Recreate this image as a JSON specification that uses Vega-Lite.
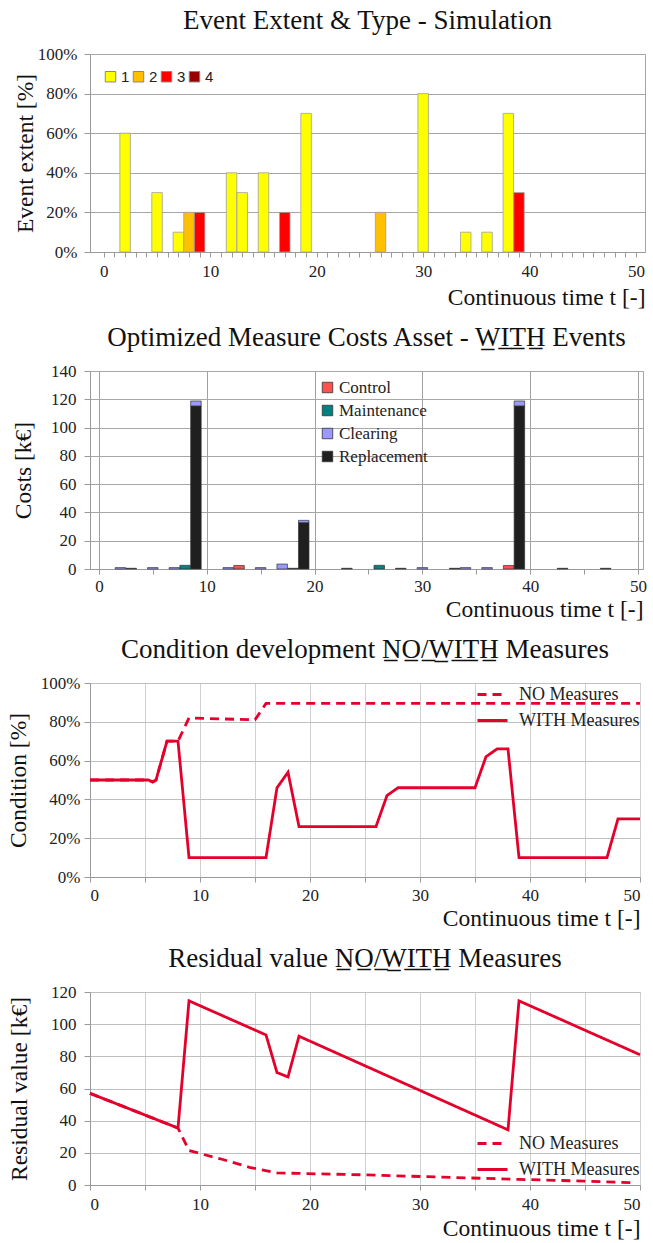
{
  "$schema": "https://vega.github.io/schema/vega-lite/v6.json",
  "background": "white",
  "padding": {"left": 5, "top": 6, "right": 4, "bottom": 2},
  "spacing": 14,
  "resolve": {"scale": {"color": "independent", "strokeDash": "independent"}, "legend": {"color": "independent", "strokeDash": "independent"}},
  "config": {
    "font": "Liberation Serif",
    "view": {"stroke": "#A6A6A6", "strokeWidth": 1},
    "title": {"font": "Liberation Serif", "fontSize": 27, "fontWeight": "normal", "color": "#111111", "anchor": "middle", "offset": 10},
    "axis": {
      "labelFont": "Liberation Serif", "labelFontSize": 17, "labelColor": "#222222",
      "titleFont": "Liberation Serif", "titleFontSize": 23.5, "titleFontWeight": "normal", "titleColor": "#111111",
      "domainColor": "#9A9A9A", "tickColor": "#9A9A9A", "gridColor": "#BFBFBF", "labelOverlap": false
    },
    "legend": {"labelFont": "Liberation Serif", "labelFontSize": 17, "labelColor": "#222222"}
  },
  "vconcat": [
    {
      "title": "Event Extent & Type - Simulation",
      "width": 555, "height": 198,
      "data": {"values": [
        {"t": 2, "type": "1", "extent": 0.6},
        {"t": 5, "type": "1", "extent": 0.3},
        {"t": 7, "type": "1", "extent": 0.1},
        {"t": 8, "type": "2", "extent": 0.2},
        {"t": 9, "type": "3", "extent": 0.2},
        {"t": 12, "type": "1", "extent": 0.4},
        {"t": 13, "type": "1", "extent": 0.3},
        {"t": 15, "type": "1", "extent": 0.4},
        {"t": 17, "type": "3", "extent": 0.2},
        {"t": 19, "type": "1", "extent": 0.7},
        {"t": 26, "type": "2", "extent": 0.2},
        {"t": 30, "type": "1", "extent": 0.8},
        {"t": 34, "type": "1", "extent": 0.1},
        {"t": 36, "type": "1", "extent": 0.1},
        {"t": 38, "type": "1", "extent": 0.7},
        {"t": 39, "type": "3", "extent": 0.3}
      ]},
      "mark": {"type": "bar", "size": 10.5, "stroke": "#A0A0A0", "strokeWidth": 0.8},
      "encoding": {
        "x": {"field": "t", "type": "quantitative",
          "scale": {"domain": [-0.83, 50.37], "nice": false},
          "axis": {"title": "Continuous time t [-]", "titleAnchor": "end", "grid": false, "tickSize": 5,
            "values": [0,1,2,3,4,5,6,7,8,9,10,11,12,13,14,15,16,17,18,19,20,21,22,23,24,25,26,27,28,29,30,31,32,33,34,35,36,37,38,39,40,41,42,43,44,45,46,47,48,49,50],
            "labelExpr": "datum.value % 10 === 0 ? datum.label : ''", "labelPadding": 6, "titlePadding": 6}},
        "y": {"field": "extent", "type": "quantitative",
          "scale": {"domain": [0, 1], "nice": false},
          "axis": {"title": "Event extent [%]", "format": ".0%", "values": [0, 0.2, 0.4, 0.6, 0.8, 1], "gridColor": "#A6A6A6", "tickSize": 6, "labelPadding": 7, "titlePadding": 0}},
        "color": {"field": "type", "type": "nominal",
          "scale": {"domain": ["1", "2", "3", "4"], "range": ["#FFFF00", "#FFC000", "#FF0000", "#990000"]},
          "legend": {"title": null, "orient": "none", "legendX": 13, "legendY": 15, "direction": "horizontal",
            "labelFont": "Liberation Sans", "labelFontSize": 15, "symbolType": "square", "symbolSize": 110,
            "symbolStrokeColor": "#888888", "symbolStrokeWidth": 1, "columnPadding": 1, "labelOffset": 3}}
      }
    },
    {
      "title": "Optimized Measure Costs Asset - W\u0332I\u0332T\u0332H\u0332 Events",
      "width": 553, "height": 198,
      "data": {"values": [
        {"t": 2, "type": "Clearing", "cost": 1.0},
        {"t": 3, "type": "Replacement", "cost": 0.5},
        {"t": 5, "type": "Clearing", "cost": 1.0},
        {"t": 7, "type": "Clearing", "cost": 1.0},
        {"t": 8, "type": "Maintenance", "cost": 2.6},
        {"t": 9, "type": "Replacement", "cost": 115.3},
        {"t": 9, "type": "Clearing", "cost": 3.5},
        {"t": 12, "type": "Clearing", "cost": 1.0},
        {"t": 13, "type": "Control", "cost": 2.5},
        {"t": 15, "type": "Clearing", "cost": 1.0},
        {"t": 17, "type": "Clearing", "cost": 3.5},
        {"t": 18, "type": "Replacement", "cost": 0.5},
        {"t": 19, "type": "Replacement", "cost": 32.8},
        {"t": 19, "type": "Clearing", "cost": 1.6},
        {"t": 23, "type": "Replacement", "cost": 0.5},
        {"t": 26, "type": "Maintenance", "cost": 2.6},
        {"t": 28, "type": "Replacement", "cost": 0.5},
        {"t": 30, "type": "Clearing", "cost": 1.0},
        {"t": 33, "type": "Replacement", "cost": 0.5},
        {"t": 34, "type": "Clearing", "cost": 1.0},
        {"t": 36, "type": "Clearing", "cost": 1.0},
        {"t": 38, "type": "Control", "cost": 2.5},
        {"t": 39, "type": "Replacement", "cost": 115.3},
        {"t": 39, "type": "Clearing", "cost": 3.5},
        {"t": 43, "type": "Replacement", "cost": 0.5},
        {"t": 47, "type": "Replacement", "cost": 0.5}
      ]},
      "mark": {"type": "bar", "size": 10.5, "stroke": "#333333", "strokeWidth": 0.7},
      "encoding": {
        "x": {"field": "t", "type": "quantitative",
          "scale": {"domain": [-0.36, 50], "nice": false},
          "axis": {"title": "Continuous time t [-]", "titleAnchor": "end", "tickSize": 5,
            "values": [0, 5, 10, 15, 20, 25, 30, 35, 40, 45, 50],
            "labelExpr": "datum.value % 10 === 0 ? datum.label : ''",
            "gridColor": {"condition": {"test": "datum.value % 10 === 0", "value": "#A0A0A0"}, "value": "rgba(0,0,0,0)"},
            "labelPadding": 4, "titlePadding": 3}},
        "y": {"field": "cost", "type": "quantitative", "stack": "zero",
          "scale": {"domain": [0, 140], "nice": false},
          "axis": {"title": "Costs [k€]", "values": [0, 20, 40, 60, 80, 100, 120, 140], "gridColor": "#A6A6A6", "tickSize": 6, "labelPadding": 8, "titlePadding": 15}},
        "color": {"field": "type", "type": "nominal",
          "scale": {"domain": ["Control", "Maintenance", "Clearing", "Replacement"], "range": ["#FF5050", "#008080", "#9999FF", "#1F1F1F"]},
          "legend": {"title": null, "orient": "none", "legendX": 229, "legendY": 8,
            "symbolType": "square", "symbolSize": 110, "symbolStrokeColor": "#333333", "symbolStrokeWidth": 0.8,
            "rowPadding": 5, "labelOffset": 3}},
        "order": {"field": "type", "sort": "descending"}
      }
    },
    {
      "title": "Condition development N\u0332O\u0332/\u0332W\u0332I\u0332T\u0332H\u0332 Measures",
      "width": 550, "height": 194,
      "data": {"values": [
        {"series": "NO Measures", "t": 0, "cond": 0.5},
        {"series": "NO Measures", "t": 5.3, "cond": 0.5},
        {"series": "NO Measures", "t": 5.7, "cond": 0.49},
        {"series": "NO Measures", "t": 6, "cond": 0.5},
        {"series": "NO Measures", "t": 7, "cond": 0.7},
        {"series": "NO Measures", "t": 8, "cond": 0.7},
        {"series": "NO Measures", "t": 9, "cond": 0.82},
        {"series": "NO Measures", "t": 15, "cond": 0.81},
        {"series": "NO Measures", "t": 16, "cond": 0.895},
        {"series": "NO Measures", "t": 50, "cond": 0.895},
        {"series": "WITH Measures", "t": 0, "cond": 0.5},
        {"series": "WITH Measures", "t": 5.3, "cond": 0.5},
        {"series": "WITH Measures", "t": 5.7, "cond": 0.49},
        {"series": "WITH Measures", "t": 6, "cond": 0.5},
        {"series": "WITH Measures", "t": 7, "cond": 0.7},
        {"series": "WITH Measures", "t": 8, "cond": 0.7},
        {"series": "WITH Measures", "t": 9, "cond": 0.1},
        {"series": "WITH Measures", "t": 16, "cond": 0.1},
        {"series": "WITH Measures", "t": 17, "cond": 0.46},
        {"series": "WITH Measures", "t": 18, "cond": 0.54},
        {"series": "WITH Measures", "t": 19, "cond": 0.26},
        {"series": "WITH Measures", "t": 26, "cond": 0.26},
        {"series": "WITH Measures", "t": 27, "cond": 0.42},
        {"series": "WITH Measures", "t": 28, "cond": 0.46},
        {"series": "WITH Measures", "t": 35, "cond": 0.46},
        {"series": "WITH Measures", "t": 36, "cond": 0.62},
        {"series": "WITH Measures", "t": 37, "cond": 0.66},
        {"series": "WITH Measures", "t": 38, "cond": 0.66},
        {"series": "WITH Measures", "t": 39, "cond": 0.1},
        {"series": "WITH Measures", "t": 47, "cond": 0.1},
        {"series": "WITH Measures", "t": 48, "cond": 0.3},
        {"series": "WITH Measures", "t": 50, "cond": 0.3}
      ]},
      "mark": {"type": "line", "color": "#E4002B", "strokeWidth": 2.8},
      "encoding": {
        "x": {"field": "t", "type": "quantitative",
          "scale": {"domain": [0, 50], "nice": false},
          "axis": {"title": "Continuous time t [-]", "titleAnchor": "end", "tickSize": 5,
            "values": [0, 5, 10, 15, 20, 25, 30, 35, 40, 45, 50],
            "labelExpr": "datum.value % 10 === 0 ? datum.label : ''",
            "gridColor": "#D0D0D0", "labelPadding": 5, "titlePadding": 3}},
        "y": {"field": "cond", "type": "quantitative",
          "scale": {"domain": [0, 1], "nice": false},
          "axis": {"title": "Condition [%]", "format": ".0%", "values": [0, 0.2, 0.4, 0.6, 0.8, 1], "gridColor": "#BFBFBF", "tickSize": 6, "labelPadding": 4, "titlePadding": 10}},
        "strokeDash": {"field": "series", "type": "nominal",
          "scale": {"domain": ["NO Measures", "WITH Measures"], "range": [[9, 6], [1, 0]]},
          "legend": {"title": null, "orient": "none", "legendX": 386, "legendY": -5, "symbolType": "stroke",
            "symbolStrokeColor": "#E4002B", "symbolStrokeWidth": 3, "symbolSize": 900,
            "labelFontSize": 18, "rowPadding": -3, "labelOffset": 10}}
      }
    },
    {
      "title": "Residual value N\u0332O\u0332/\u0332W\u0332I\u0332T\u0332H\u0332 Measures",
      "width": 550, "height": 193,
      "data": {"values": [
        {"series": "NO Measures", "t": 0, "value": 57},
        {"series": "NO Measures", "t": 8, "value": 35.4},
        {"series": "NO Measures", "t": 9, "value": 21.4},
        {"series": "NO Measures", "t": 12, "value": 16},
        {"series": "NO Measures", "t": 14.5, "value": 11},
        {"series": "NO Measures", "t": 17, "value": 7.5},
        {"series": "NO Measures", "t": 19, "value": 7.2},
        {"series": "NO Measures", "t": 25, "value": 6.3},
        {"series": "NO Measures", "t": 32, "value": 4.9},
        {"series": "NO Measures", "t": 39, "value": 3.5},
        {"series": "NO Measures", "t": 45, "value": 2.4},
        {"series": "NO Measures", "t": 49.5, "value": 1.4},
        {"series": "WITH Measures", "t": 0, "value": 57},
        {"series": "WITH Measures", "t": 8, "value": 35.4},
        {"series": "WITH Measures", "t": 9, "value": 114.5},
        {"series": "WITH Measures", "t": 16, "value": 93.3},
        {"series": "WITH Measures", "t": 17, "value": 69.9},
        {"series": "WITH Measures", "t": 18, "value": 67.2},
        {"series": "WITH Measures", "t": 19, "value": 92.5},
        {"series": "WITH Measures", "t": 38, "value": 34.3},
        {"series": "WITH Measures", "t": 39, "value": 114.5},
        {"series": "WITH Measures", "t": 50, "value": 81}
      ]},
      "mark": {"type": "line", "color": "#E4002B", "strokeWidth": 2.8},
      "encoding": {
        "x": {"field": "t", "type": "quantitative",
          "scale": {"domain": [0, 50], "nice": false},
          "axis": {"title": "Continuous time t [-]", "titleAnchor": "end", "tickSize": 5,
            "values": [0, 5, 10, 15, 20, 25, 30, 35, 40, 45, 50],
            "labelExpr": "datum.value % 10 === 0 ? datum.label : ''",
            "gridColor": "#D0D0D0", "labelPadding": 6, "titlePadding": 4}},
        "y": {"field": "value", "type": "quantitative",
          "scale": {"domain": [0, 120], "nice": false},
          "axis": {"title": "Residual value [k€]", "values": [0, 20, 40, 60, 80, 100, 120], "gridColor": "#BFBFBF", "tickSize": 6, "labelPadding": 8, "titlePadding": 19}},
        "strokeDash": {"field": "series", "type": "nominal",
          "scale": {"domain": ["NO Measures", "WITH Measures"], "range": [[9, 6], [1, 0]]},
          "legend": {"title": null, "orient": "none", "legendX": 386, "legendY": 135, "symbolType": "stroke",
            "symbolStrokeColor": "#E4002B", "symbolStrokeWidth": 3, "symbolSize": 900,
            "labelFontSize": 18, "rowPadding": -3, "labelOffset": 10}}
      }
    }
  ]
}
